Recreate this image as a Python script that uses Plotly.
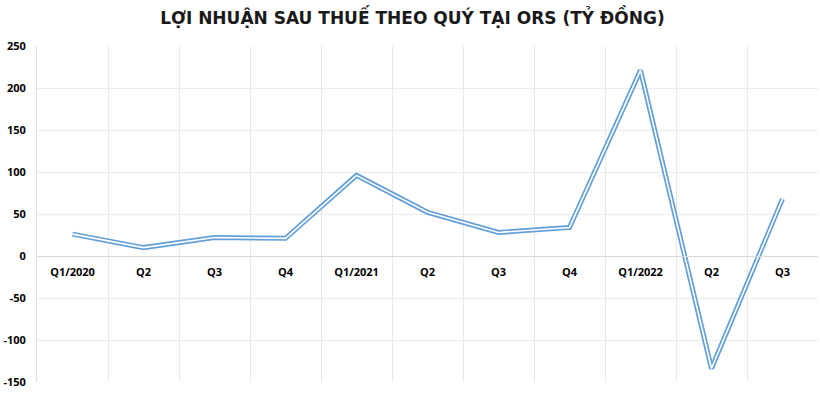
import plotly.graph_objects as go

quarter_labels = ["Q1/2020", "Q2", "Q3", "Q4", "Q1/2021", "Q2", "Q3", "Q4", "Q1/2022", "Q2", "Q3"]
profit = [26, 10, 22, 21, 96, 52, 28, 34, 221, -134, 68]
y_ticks = [-150, -100, -50, 0, 50, 100, 150, 200, 250]

title_text = "LỢI NHUẬN SAU THUẾ THEO QUÝ TẠI ORS (TỶ ĐỒNG)"

x_pos = list(range(len(quarter_labels)))

fig = go.Figure()
fig.add_trace(go.Scatter(x=x_pos, y=profit, mode="lines",
                         line=dict(color="#629fd8", width=5), hoverinfo="skip"))
fig.add_trace(go.Scatter(x=x_pos, y=profit, mode="lines",
                         line=dict(color="white", width=1.6), hoverinfo="skip"))

fig.update_layout(
    width=820, height=397,
    margin=dict(l=37, r=2, t=46, b=15),
    paper_bgcolor="white", plot_bgcolor="white",
    showlegend=False,
    title=dict(text=title_text, x=0.503, xanchor="center", y=0.955, yanchor="middle",
               font=dict(family="DejaVu Sans", size=17, color="#1a1a1a", weight="bold")),
    font=dict(family="Open Sans", size=11, color="#000000"),
)
fig.update_xaxes(
    tickvals=x_pos, ticktext=quarter_labels,
    showgrid=False,
    minor=dict(tick0=-0.5, dtick=1, showgrid=True, gridcolor="#e8e8e8", gridwidth=1, ticks=""),
    showline=True, linecolor="#d9d9d9", linewidth=1,
    anchor="free", position=150/400,
    ticks="", ticklabelstandoff=6, zeroline=False,
    tickfont=dict(family="Open Sans", size=11, weight="bold", color="#000"),
    range=[-0.5, 10.5], fixedrange=True,
)
fig.update_yaxes(
    range=[-150, 250], tickvals=y_ticks, ticktext=[str(v) for v in y_ticks],
    showgrid=True, gridcolor="#ececec", gridwidth=1,
    zeroline=False, showline=True, linecolor="#e0e0e0",
    ticks="", ticklabelstandoff=8,
    tickfont=dict(family="Open Sans", size=11, weight="bold", color="#000"),
    fixedrange=True,
)
fig.write_html("out.html")
